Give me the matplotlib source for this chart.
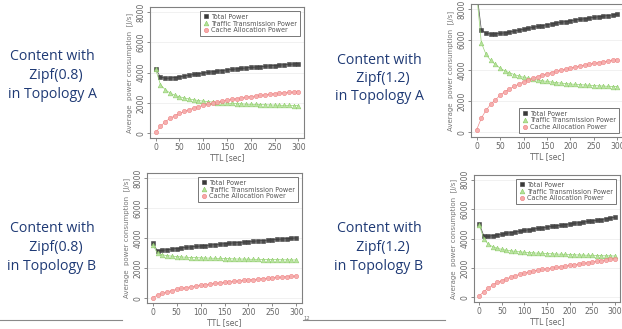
import numpy as np
import matplotlib
matplotlib.use("agg")
import matplotlib.pyplot as plt
from matplotlib.lines import Line2D

# TTL [sec] sampled every 10 s
ttl = list(range(0, 301, 10))

# Zipf(0.8), Topology A
total_a08 = [4250, 3700, 3620, 3630, 3670, 3720, 3770, 3820, 3870, 3920, 3970, 4010, 4050,
             4090, 4130, 4170, 4200, 4240, 4270, 4300, 4330, 4360, 4390, 4410, 4440, 4460,
             4490, 4510, 4540, 4560, 4590]
traffic_a08 = [4200, 3200, 2870, 2650, 2500, 2400, 2320, 2250, 2200, 2150, 2110, 2080, 2050,
               2020, 2000, 1980, 1960, 1940, 1930, 1910, 1900, 1890, 1880, 1870, 1860, 1850,
               1840, 1830, 1830, 1820, 1810]
cache_a08 = [50, 440, 750, 970, 1150, 1300, 1430, 1550, 1650, 1750, 1830, 1910, 1980, 2050,
             2110, 2170, 2220, 2270, 2320, 2370, 2410, 2450, 2490, 2530, 2560, 2600, 2630,
             2660, 2690, 2710, 2740]

# Zipf(1.2), Topology A
total_a12 = [9200, 6650, 6420, 6370, 6380, 6410, 6450, 6500, 6560, 6620, 6680, 6740, 6800,
             6860, 6920, 6980, 7030, 7080, 7130, 7180, 7230, 7280, 7320, 7360, 7410, 7450,
             7490, 7530, 7570, 7610, 7660]
traffic_a12 = [9000, 5800, 5050, 4650, 4400, 4150, 3980, 3850, 3740, 3640, 3560, 3490, 3430,
               3380, 3330, 3290, 3250, 3210, 3180, 3150, 3120, 3100, 3080, 3060, 3040, 3020,
               3000, 2990, 2970, 2960, 2950]
cache_a12 = [150, 900, 1420, 1800, 2080, 2400, 2620, 2800, 2970, 3120, 3260, 3390, 3500, 3610,
             3700, 3790, 3870, 3950, 4020, 4090, 4160, 4230, 4290, 4350, 4410, 4460, 4510,
             4560, 4610, 4660, 4710]

# Zipf(0.8), Topology B
total_b08 = [3650, 3150, 3180, 3220, 3260, 3300, 3340, 3380, 3410, 3440, 3470, 3500, 3530,
             3560, 3590, 3620, 3650, 3680, 3700, 3730, 3760, 3780, 3810, 3830, 3860, 3880,
             3910, 3930, 3960, 3980, 4010]
traffic_b08 = [3550, 2980, 2880, 2830, 2790, 2760, 2740, 2720, 2700, 2690, 2680, 2670, 2660,
               2650, 2640, 2630, 2620, 2610, 2600, 2600, 2590, 2580, 2580, 2570, 2570, 2560,
               2560, 2550, 2550, 2540, 2540]
cache_b08 = [40, 200, 320, 420, 510, 590, 650, 710, 760, 810, 850, 900, 940, 980, 1020, 1050,
             1090, 1120, 1150, 1180, 1210, 1240, 1270, 1300, 1320, 1350, 1380, 1400, 1430,
             1450, 1480]

# Zipf(1.2), Topology B
total_b12 = [4980, 4170, 4150, 4200, 4250, 4300, 4350, 4400, 4450, 4500, 4550, 4600, 4640,
             4690, 4730, 4780, 4820, 4860, 4900, 4950, 4990, 5030, 5070, 5110, 5160, 5200,
             5240, 5290, 5340, 5390, 5450]
traffic_b12 = [4910, 3950, 3610, 3430, 3330, 3260, 3200, 3160, 3120, 3090, 3060, 3040, 3020,
               3000, 2990, 2970, 2960, 2940, 2930, 2920, 2900, 2890, 2880, 2870, 2860, 2850,
               2840, 2830, 2820, 2820, 2810]
cache_b12 = [110, 390, 640, 850, 1010, 1140, 1260, 1370, 1470, 1560, 1650, 1720, 1790, 1850,
             1900, 1940, 1990, 2030, 2070, 2110, 2170, 2210, 2260, 2300, 2350, 2400, 2440,
             2490, 2540, 2580, 2630]

series_names = ["Total Power", "Traffic Transmission Power", "Cache Allocation Power"]
y_ticks = [0, 2000, 4000, 6000, 8000]
x_ticks = [0, 50, 100, 150, 200, 250, 300]

W, H = 622, 329
fig = plt.figure(figsize=(W / 100, H / 100), dpi=100)
fig.patch.set_facecolor("white")


def px_axes(x0, y0, x1, y1):
    return fig.add_axes([x0 / W, 1 - y1 / H, (x1 - x0) / W, (y1 - y0) / H])


styles = [
    dict(marker="s", ms=2.4, color="#3a3a3a", mfc="#3a3a3a", mec="#3a3a3a"),
    dict(marker="^", ms=3.4, color="#8ccf66", mfc="#b5e29a", mec="#86c860"),
    dict(marker="o", ms=3.1, color="#ee8080", mfc="#f6aaaa", mec="#ec7b7b"),
]


def panel(box, total, traffic, cache, legend_loc):
    ax = px_axes(*box)
    for vals, st in zip([total, traffic, cache], styles):
        ax.plot(ttl, vals, lw=0.5, color=st["color"], marker=st["marker"], ms=st["ms"],
                mfc=st["mfc"], mec=st["mec"], mew=0.4, alpha=0.9)
    ax.set_xlim(-12, 312)
    ax.set_ylim(-320, 8320)
    ax.set_xticks(x_ticks)
    ax.set_yticks(y_ticks)
    ax.set_yticklabels([str(v) for v in y_ticks], rotation=90, va="center")
    ax.tick_params(labelsize=5.5, colors="#777777", labelcolor="#666666", length=2, width=0.6, pad=1.5)
    ax.grid(axis="y", color="#ececec", lw=0.5)
    ax.set_axisbelow(True)
    for s in ax.spines.values():
        s.set_color("#808080")
        s.set_linewidth(0.8)
    ax.set_xlabel("TTL [sec]", fontsize=5.5, color="#666666", labelpad=1)
    ax.set_ylabel("Average  power consumption  [J/s]", fontsize=5.0, color="#777777", labelpad=2)
    handles = [Line2D([], [], ls="none", marker=st["marker"], ms=st["ms"], mfc=st["mfc"],
                      mec=st["mec"], mew=0.4) for st in styles]
    leg = ax.legend(handles, series_names, loc=legend_loc, fontsize=4.7, frameon=True,
                    fancybox=False, edgecolor="#555555", handlelength=1.0, handletextpad=0.4,
                    borderpad=0.4, labelspacing=0.15, borderaxespad=0.6)
    leg.get_frame().set_linewidth(0.7)
    for t in leg.get_texts():
        t.set_color("#555555")
    return ax


panel((150, 7, 304, 138), total_a08, traffic_a08, cache_a08, "upper right")
panel((471, 4, 623, 137), total_a12, traffic_a12, cache_a12, "lower right")
panel((147, 173, 302, 303), total_b08, traffic_b08, cache_b08, "upper right")
panel((474, 175, 620, 302), total_b12, traffic_b12, cache_b12, "upper right")

# slide text labels
text_color = "#1f3a75"
label_sets = [
    (52, 57, ["Content with", "  Zipf(0.8)", "in Topology A"]),
    (379, 60, ["Content with", "  Zipf(1.2)", "in Topology A"]),
    (52, 229, ["Content with", "  Zipf(0.8)", "in Topology B"]),
    (379, 229, ["Content with", "  Zipf(1.2)", "in Topology B"]),
]
for cx, cy, lines in label_sets:
    for i, line in enumerate(lines):
        fig.text(cx / W, 1 - (cy + i * 18.5) / H, line, ha="center", va="center",
                 fontsize=10.2, color=text_color, family=["Open Sans", "DejaVu Sans"])

# footer rule and page number
fig.add_artist(Line2D([0, 122 / W], [1 - 320 / H] * 2, color="#8a8a8a", lw=0.8))
fig.add_artist(Line2D([303 / W, 445 / W], [1 - 320 / H] * 2, color="#8a8a8a", lw=0.8))
fig.text(307 / W, 1 - 316 / H, "12", fontsize=3.8, color="#777777", ha="center", va="top")

fig.savefig("out.png", dpi=100, facecolor="white")
